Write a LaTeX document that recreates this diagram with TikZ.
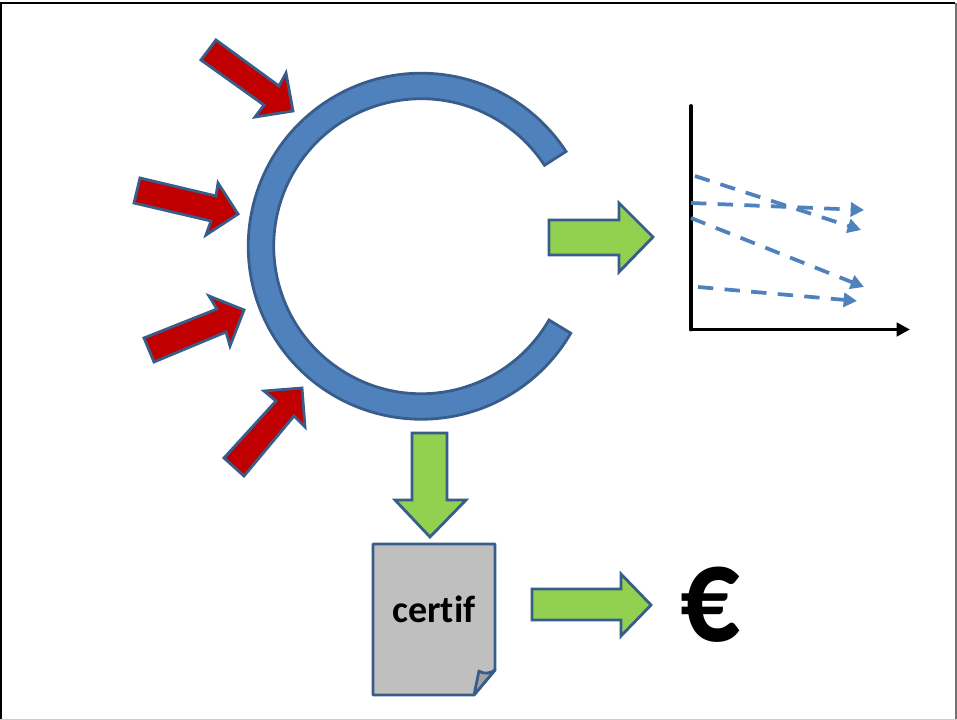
\documentclass[tikz,border=0pt]{standalone}
\usepackage{fontspec}
\setmainfont[Ligatures=NoCommon]{Carlito}
\usetikzlibrary{arrows.meta}
\definecolor{edgeblue}{HTML}{385D8A}
\definecolor{ringblue}{HTML}{4F81BD}
\definecolor{redfill}{HTML}{C00000}
\definecolor{greenfill}{HTML}{92D050}
\definecolor{docgrey}{HTML}{BFBFBF}
\tikzset{
  shapeline/.style={draw=edgeblue,line width=2.1pt,line join=miter,miter limit=10},
  redarrow/.style={shapeline,fill=redfill},
  greenarrow/.style={shapeline,fill=greenfill},
  trend/.style={draw=ringblue,line width=2.8pt,dash pattern=on 11.5pt off 8.5pt,
    -{Triangle[length=10pt,width=10.5pt]}},
  axis/.style={draw=black,line width=2.9pt,line cap=round},
}
\begin{document}
\begin{tikzpicture}[x=0.75pt,y=-0.75pt]
\useasboundingbox (0,0) rectangle (957,720);
\fill[white] (0,0) rectangle (957,720);
% frame
\draw[black,line width=2.2pt] (1,720) -- (1,3) -- (955,3);
\draw[black!55,line width=1.8pt] (956,3) -- (956,720);
\draw[black!20,line width=1.2pt] (0,719.3) -- (957,719.3);
% ring
\draw[shapeline,fill=ringblue] (566,151.5) arc[start angle=33.2,end angle=329.8,x radius=173,y radius=-173]
  -- (549,320) arc[start angle=330,end angle=33.3,x radius=147.5,y radius=-147.5] -- cycle;
% red arrows
\draw[redarrow] (216,40) -- (279,86) -- (286,73) -- (293,111) -- (255,117) -- (264,105) -- (201,60) -- cycle;
\draw[redarrow] (140,178) -- (216,196) -- (218,183) -- (238,214) -- (206,235) -- (211,221) -- (134,203) -- cycle;
\draw[redarrow] (144,338) -- (217,309) -- (209,296) -- (244,310) -- (230,346) -- (226,332) -- (154,362) -- cycle;
\draw[redarrow] (224,458) -- (276,401) -- (264,391) -- (302,388) -- (305,427) -- (294,416) -- (244,476) -- cycle;
% green arrows
\draw[greenarrow] (549,220) -- (619,220) -- (619,203) -- (653,237) -- (619,272) -- (619,255) -- (549,255) -- cycle;
\draw[greenarrow] (412,433) -- (447,433) -- (447,500) -- (466,500) -- (430,537) -- (395,500) -- (412,500) -- cycle;
\draw[greenarrow] (532,589) -- (621,589) -- (621,574) -- (651,605) -- (621,636) -- (621,620) -- (532,620) -- cycle;
% document
\draw[shapeline,fill=docgrey,line join=round] (373,544) -- (495,544) -- (495,670) -- (474,695) -- (373,695) -- cycle;
\draw[shapeline,fill=docgrey!85!black,line join=round] (474,695) -- (479,671) .. controls (483,674) and (490,674) .. (495,670) -- cycle;
\node[font=\bfseries,anchor=base,inner sep=0pt] (certif) at (434,622) {\fontsize{28.5pt}{32pt}\selectfont certif};
\node[font=\bfseries,inner sep=0pt,xscale=0.86] (euro) at (710.5,605) {\fontsize{103pt}{110pt}\selectfont €};
% axes
\coordinate (origin) at (691,329.5);
\coordinate (ytop) at (691,106);
\coordinate (xend) at (910,329.5);
\draw[axis] (ytop) -- (origin);
\draw[axis,-{Triangle[length=10pt,width=10pt]}] (origin) -- (xend);
% trends
\coordinate (a1) at (695,176); \coordinate (b1) at (861,230);
\coordinate (a2) at (691,203); \coordinate (b2) at (864,210);
\coordinate (a3) at (691,218); \coordinate (b3) at (864,287);
\coordinate (a4) at (698,287); \coordinate (b4) at (857,301);
\draw[trend] (a1) -- (b1);
\draw[trend] (a2) -- (b2);
\draw[trend] (a3) -- (b3);
\draw[trend] (a4) -- (b4);
\end{tikzpicture}
\end{document}
